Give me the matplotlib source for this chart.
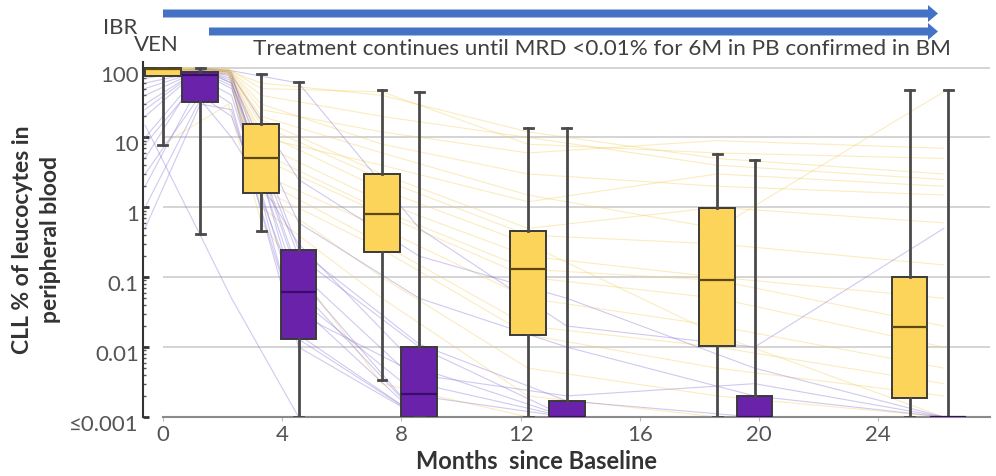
import matplotlib
matplotlib.use("Agg")
import matplotlib.pyplot as plt
from matplotlib.patches import FancyArrow
from matplotlib.ticker import FixedLocator, LogLocator, NullFormatter
from matplotlib.transforms import ScaledTranslation

plt.rcParams['font.family'] = ['Lato', 'DejaVu Sans']

# box summary per visit (CLL % of leucocytes in PB)
yellow_pos = [0.0, 3.3, 7.35, 12.25, 18.6, 25.05]
yellow_q1 = [75, 1.62, 0.23, 0.015, 0.0104, 0.0019]
yellow_med = [95, 5.1, 0.81, 0.13, 0.092, 0.0195]
yellow_q3 = [100, 15.7, 3.03, 0.46, 0.99, 0.101]
yellow_lo = [7.9, 0.46, 0.0034, 0.001, 0.001, 0.001]
yellow_hi = [100, 80, 47, 13.8, 5.7, 47]

purple_pos = [1.25, 4.55, 8.6, 13.55, 19.85, 26.35]
purple_q1 = [32.6, 0.013, 0.001, 0.001, 0.001, 0.001]
purple_med = [78, 0.062, 0.0021, 0.001, 0.001, 0.001]
purple_q3 = [85, 0.247, 0.01, 0.0017, 0.002, 0.001]
purple_lo = [0.41, 0.001, 0.001, 0.001, 0.001, 0.001]
purple_hi = [100, 63, 44, 13.8, 4.8, 47]

# individual patient trajectories
yellow_t = [0, 2.2, 3.3, 7.35, 12.25, 18.6, 26.2]
yellow_paths = [
    [95, 90, 60, 40, 12, 5, 3],
    [98, 92, 40, 20, 10, 4, 2.5],
    [100, 95, 30, 8, 3, 2, 1.5],
    [92, 88, 18, 3, 0.5, 1.0, 0.6],
    [97, 90, 15, 2.5, 0.4, 0.3, 0.15],
    [95, 85, 8, 1.2, 0.2, 0.1, 0.05],
    [99, 90, 6, 0.9, 0.13, 0.09, 0.02],
    [90, 80, 5, 0.8, 0.1, 0.05, 0.01],
    [96, 88, 3, 0.5, 0.05, 0.02, 0.005],
    [94, 85, 2.5, 0.3, 0.02, 0.01, 0.003],
    [98, 90, 1.8, 0.25, 0.015, 0.005, 0.002],
    [93, 82, 1.6, 0.1, 0.005, 0.002, 0.001],
    [97, 86, 1.0, 0.05, 0.002, 0.001, 0.001],
    [8, 30, 0.6, 0.003, 0.001, 0.001, 0.001],
    [95, 90, 20, 6, 1.5, 0.5, 45],
    [100, 95, 50, 45, 8, 6, 5],
    [91, 87, 12, 1.8, 0.3, 0.015, 0.001],
    [99, 93, 25, 12, 6, 9, 7],
    [96, 91, 10, 4, 1.2, 3, 2],
]

purple_t = [-0.6, 1.25, 2.3, 4.55, 8.6, 13.55, 19.85, 26.2]
purple_paths = [
    [20, 95, 60, 0.2, 0.01, 0.001, 0.001, 0.001],
    [3, 40, 20, 0.05, 0.002, 0.001, 0.001, 0.001],
    [1, 35, 10, 0.3, 0.005, 0.001, 0.001, 0.001],
    [10, 85, 50, 0.07, 0.001, 0.001, 0.001, 0.001],
    [0.5, 30, 25, 0.015, 0.001, 0.001, 0.001, 0.001],
    [50, 90, 70, 0.6, 0.05, 0.01, 0.002, 0.001],
    [5, 90, 80, 2.5, 0.2, 0.05, 0.005, 0.001],
    [30, 95, 60, 0.1, 0.001, 0.001, 0.001, 0.001],
    [2, 60, 30, 0.01, 0.001, 0.001, 0.001, 0.001],
    [80, 98, 90, 60, 0.5, 0.02, 0.01, 0.5],
    [15, 0.4, 0.05, 0.001, 0.001, 0.001, 0.001, 0.001],
    [8, 70, 40, 0.03, 0.004, 0.002, 0.003, 0.001],
    [40, 92, 75, 0.25, 0.011, 0.0017, 0.001, 0.001],
    [60, 88, 55, 0.013, 0.001, 0.001, 0.001, 0.001],
    [25, 96, 85, 0.04, 0.001, 0.001, 0.001, 0.001],
    [70, 94, 65, 0.12, 0.003, 0.001, 0.001, 0.001],
]

x_ticks = [0, 4, 8, 12, 16, 20, 24]
y_ticks = [0.001, 0.01, 0.1, 1, 10, 100]
y_ticklabels = ['≤0.001', '0.01', '0.1', '1', '10', '100']


def box_stats(pos, q1, med, q3, lo, hi):
    return [dict(med=m, q1=a, q3=b, whislo=l, whishi=h, fliers=[])
            for m, a, b, l, h in zip(med, q1, q3, lo, hi)]


def draw_boxes(ax, stats, pos, face, median_color):
    ax.bxp(stats, positions=pos, widths=1.2, patch_artist=True, showfliers=False,
           capwidths=0.3, manage_ticks=False,
           boxprops=dict(facecolor=face, edgecolor='#3a3a3a', linewidth=1.4),
           medianprops=dict(color=median_color, linewidth=1.6),
           whiskerprops=dict(color='#4a4a4a', linewidth=2.0),
           capprops=dict(color='#4a4a4a', linewidth=2.0),
           zorder=5)


fig = plt.figure(figsize=(9.96, 4.76), dpi=100)
ax = fig.add_axes([143 / 996, (476 - 417) / 476, (990 - 143) / 996, (417 - 62) / 476])
ax.set_yscale('log')
ax.set_ylim(0.001, 120)
ax.set_xlim(-0.67, 27.75)

# gridlines start at month 0
ax.hlines([0.01, 0.1, 1, 10, 100], 0, 27.75, color='#cdcdcd', linewidth=1.2, zorder=1)

for path in yellow_paths:
    ax.plot(yellow_t, path, color='#f5cf62', alpha=0.4, linewidth=0.8, zorder=2)
for path in purple_paths:
    ax.plot(purple_t, path, color='#8a7ad6', alpha=0.4, linewidth=0.8, zorder=2)

draw_boxes(ax, box_stats(yellow_pos, yellow_q1, yellow_med, yellow_q3, yellow_lo, yellow_hi),
           yellow_pos, '#fcd45a', '#5e4812')
draw_boxes(ax, box_stats(purple_pos, purple_q1, purple_med, purple_q3, purple_lo, purple_hi),
           purple_pos, '#6a22aa', '#3b0d6b')

for side in ['top', 'right']:
    ax.spines[side].set_visible(False)
ax.spines['left'].set_color('#333333')
ax.spines['left'].set_linewidth(1.5)
ax.spines['bottom'].set_color('#8a8a8a')
ax.spines['bottom'].set_linewidth(1.5)
ax.spines['bottom'].set_bounds(0, 27.75)

ax.yaxis.set_major_locator(FixedLocator(y_ticks))
ax.set_yticklabels(y_ticklabels)
ax.yaxis.set_minor_locator(LogLocator(base=10, subs=range(2, 10)))
ax.yaxis.set_minor_formatter(NullFormatter())
ax.tick_params(axis='y', which='major', direction='in', length=4, width=2,
               color='#333333', labelsize=16, labelcolor='#555555', pad=3)
ax.tick_params(axis='y', which='minor', direction='in', length=2.5, width=1, color='#555555')
# labels sit slightly below their ticks in the original
shift = ScaledTranslation(0, -6 / 100, fig.dpi_scale_trans)
for lab in ax.get_yticklabels():
    lab.set_transform(lab.get_transform() + shift)

ax.set_xticks(x_ticks)
ax.tick_params(axis='x', direction='out', length=3, color='#bbbbbb',
               labelsize=16, labelcolor='#555555', pad=3)

ax.set_ylabel('CLL % of leucocytes in\nperipheral blood', fontsize=16.5, fontweight='bold',
              color='#333333', labelpad=6, linespacing=1.4)

# overlay in pixel coordinates for the treatment arrows and x label
top = fig.add_axes([0, 0, 1, 1], zorder=10)
top.set_xlim(0, 996)
top.set_ylim(476, 0)
top.axis('off')
top.patch.set_alpha(0)
top.add_patch(FancyArrow(163, 13.5, 938 - 163, 0, width=8, head_width=17, head_length=10,
                         length_includes_head=True, color='#4472c4', linewidth=0))
top.add_patch(FancyArrow(209, 31.5, 938 - 209, 0, width=8, head_width=17, head_length=10,
                         length_includes_head=True, color='#4472c4', linewidth=0))
top.text(103, 34, 'IBR', fontsize=16, color='#404040', va='baseline')
top.text(134, 51, 'VEN', fontsize=16, color='#404040', va='baseline')
top.text(253, 55, 'Treatment continues until MRD <0.01% for 6M in PB confirmed in BM',
         fontsize=16.2, color='#404040', va='baseline')
top.text(537, 469, 'Months  since Baseline', fontsize=17, fontweight='bold',
         color='#333333', ha='center', va='baseline')

fig.savefig('out.png', dpi=100)
